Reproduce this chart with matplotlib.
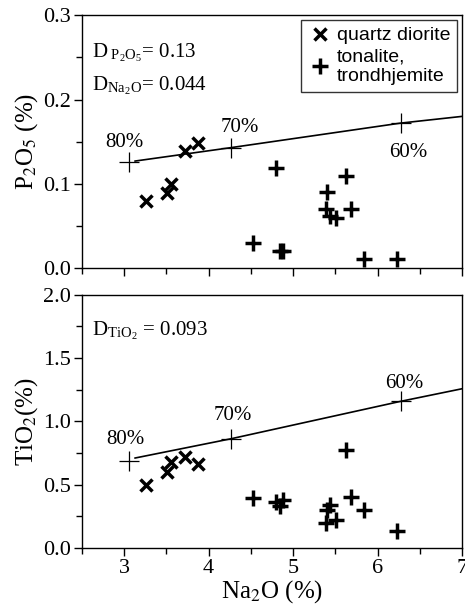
import matplotlib
matplotlib.use('Agg')
import matplotlib.pyplot as plt
from matplotlib.ticker import MultipleLocator

plt.rcParams['font.family'] = 'Liberation Serif'
plt.rcParams['mathtext.fontset'] = 'stix'

# Na2O (%) for each sample
qd_na2o = [3.26, 3.51, 3.56, 3.72, 3.87]
tt_na2o = [4.52, 4.80, 4.84, 4.88, 5.40, 5.39, 5.44, 5.51, 5.63, 5.69, 5.84, 6.23]

# P2O5 (%)
qd_p2o5 = [0.080, 0.089, 0.100, 0.139, 0.149]
tt_p2o5 = [0.030, 0.119, 0.020, 0.020, 0.090, 0.070, 0.062, 0.060, 0.109, 0.070, 0.011, 0.011]

# TiO2 (%)
qd_tio2 = [0.50, 0.60, 0.68, 0.72, 0.66]
tt_tio2 = [0.395, 0.36, 0.33, 0.38, 0.30, 0.20, 0.34, 0.22, 0.77, 0.40, 0.30, 0.13]

# fractional crystallisation model curves
model_na2o = [3.13, 4.27, 6.27, 7.0]
model_p2o5 = [0.127, 0.143, 0.172, 0.180]
model_tio2 = [0.71, 0.863, 1.158, 1.258]
step_na2o = [3.06, 4.27, 6.27]
step_p2o5 = [0.1255, 0.143, 0.172]
step_tio2 = [0.689, 0.863, 1.158]
step_labels = ['80%', '70%', '60%']
lab_pos_top = [(3.0, 0.149), (4.37, 0.167), (6.36, 0.137)]
lab_pos_bot = [(3.02, 0.855), (4.29, 1.05), (6.31, 1.30)]

fig = plt.figure(figsize=(4.65, 6.08), dpi=100)
ax1 = fig.add_axes([0.176, 0.559, 0.818, 0.416])
ax2 = fig.add_axes([0.176, 0.099, 0.818, 0.416])


def style(ax, ymax, major, minor):
    ax.set_xlim(2.5, 7)
    ax.set_ylim(0, ymax)
    ax.xaxis.set_major_locator(MultipleLocator(1))
    ax.xaxis.set_minor_locator(MultipleLocator(0.5))
    ax.yaxis.set_major_locator(MultipleLocator(major))
    ax.yaxis.set_minor_locator(MultipleLocator(minor))
    ax.tick_params(which='major', direction='out', length=6, width=1, labelsize=16,
                   pad=2)
    ax.tick_params(which='minor', direction='out', length=4, width=1)
    for s in ax.spines.values():
        s.set_linewidth(1)


def draw(ax, qd, tt, model, step, lab_pos):
    ax.plot(model_na2o, model, color='black', lw=1.2)
    ax.plot(step_na2o, step, ls='none', marker='+', ms=14, mew=0.9, color='black')
    for t, (x, y) in zip(step_labels, lab_pos):
        ax.text(x, y, t, ha='center', va='center', fontsize=15)
    ax.plot(qd_na2o, qd, ls='none', marker='x', ms=9, mew=2.5, color='black',
            label='quartz diorite')
    ax.plot(tt_na2o, tt, ls='none', marker='+', ms=11, mew=2.5, color='black',
            label='tonalite,\ntrondhjemite')


style(ax1, 0.3, 0.1, 0.05)
draw(ax1, qd_p2o5, tt_p2o5, model_p2o5, step_p2o5, lab_pos_top)
ax1.tick_params(labelbottom=False)
ax1.set_ylabel(r'P$_2$O$_5$ (%)', fontsize=18, labelpad=2)
ax1.text(2.62, 0.256, r'D$_{\ \mathregular{P_2O_5}}$= 0.13', fontsize=15, va='center')
ax1.text(2.62, 0.216, r'D$_{\mathregular{Na_2O}}$= 0.044', fontsize=15, va='center')
leg = ax1.legend(loc='upper right', prop={'family': 'Liberation Sans', 'size': 14},
                 frameon=True, fancybox=False, edgecolor='black', handletextpad=0.3,
                 borderaxespad=0.25, labelspacing=0.2, handlelength=1.2,
                 borderpad=0.35)
leg.get_frame().set_linewidth(1)

style(ax2, 2.0, 0.5, 0.25)
draw(ax2, qd_tio2, tt_tio2, model_tio2, step_tio2, lab_pos_bot)
ax2.set_ylabel(r'TiO$_2$(%)', fontsize=18, labelpad=2)
ax2.set_xlabel(r'Na$_2$O (%)', fontsize=18, labelpad=0)
ax2.text(2.62, 1.72, r'D$_{\mathregular{TiO_2}}$ = 0.093', fontsize=15, va='center')

fig.savefig('out.png', dpi=100)
